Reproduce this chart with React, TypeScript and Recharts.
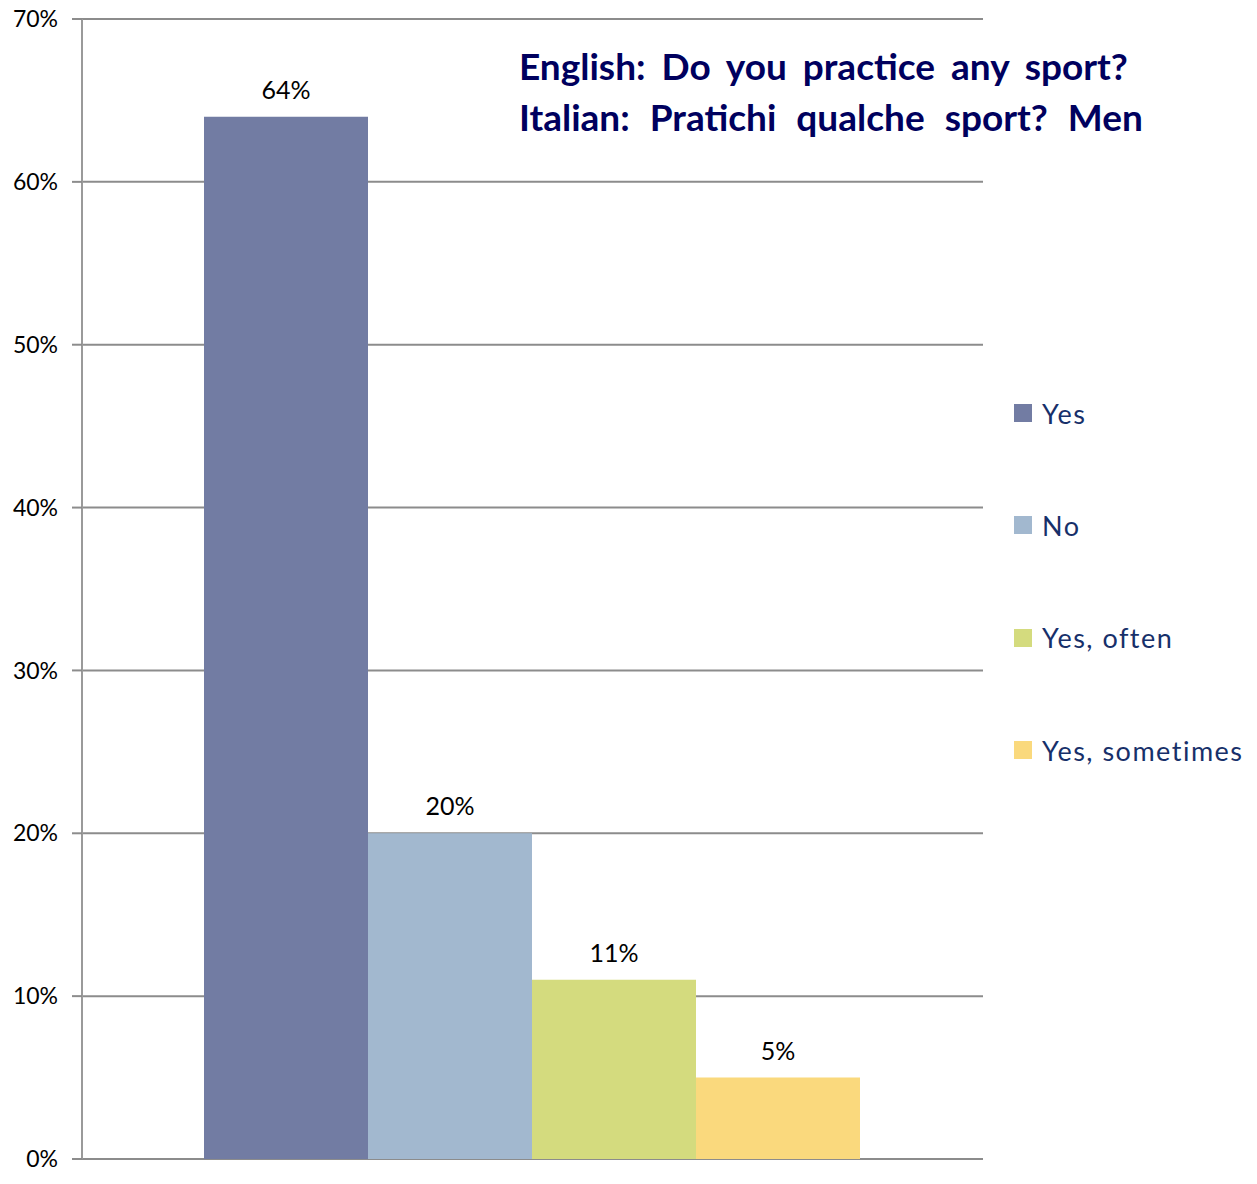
import React from 'react';
import { BarChart, Bar, XAxis, YAxis, CartesianGrid, LabelList } from 'recharts';

const categories = ['Men'];
const seriesNames = ['Yes', 'No', 'Yes, often', 'Yes, sometimes'];
const seriesValues = [64, 20, 11, 5];
const seriesColors = ['#727CA3', '#A2B8CF', '#D4DB7E', '#FAD97D'];
const yTicks = [0, 10, 20, 30, 40, 50, 60, 70];

const data = categories.map((c) => {
  const row: any = { name: c };
  seriesNames.forEach((s, i) => (row[s] = seriesValues[i]));
  return row;
});

const FONT = 'Lato, "Open Sans", sans-serif';

export default function App() {
  return (
    <div style={{ position: 'absolute', left: 0, top: 0, width: 1257, height: 1184, background: '#fff' }}>
      <BarChart
        width={1257}
        height={1184}
        data={data}
        margin={{ top: 19, right: 274, bottom: 25, left: 0 }}
        barCategoryGap={122}
        barGap={0}
      >
        <CartesianGrid vertical={false} stroke="#8C8C8C" strokeWidth={2} />
        <XAxis dataKey="name" hide />
        <YAxis
          width={82}
          domain={[0, 70]}
          ticks={yTicks}
          tickFormatter={(v) => `${v}%`}
          axisLine={{ stroke: '#9A9A9A', strokeWidth: 2 }}
          tickLine={{ stroke: '#8C8C8C', strokeWidth: 2 }}
          tickSize={10}
          tick={{ fill: '#000', fontSize: 23, fontFamily: FONT }}
          tickMargin={14}
        />
        {seriesNames.map((s, i) => (
          <Bar key={s} dataKey={s} fill={seriesColors[i]} isAnimationActive={false}>
            <LabelList
              dataKey={s}
              position="top"
              offset={18}
              formatter={(v: any) => `${v}%`}
              style={{ fill: '#000', fontSize: 25, fontFamily: FONT }}
            />
          </Bar>
        ))}
      </BarChart>

      {/* legend */}
      <div style={{ position: 'absolute', left: 1014, top: 357, fontFamily: FONT }}>
        {seriesNames.map((s, i) => (
          <div key={s} style={{ display: 'flex', alignItems: 'center', height: 112.3 }}>
            <span style={{ width: 18, height: 18, background: seriesColors[i], display: 'inline-block', marginRight: 10 }} />
            <span style={{ fontSize: 27, letterSpacing: 1.5, color: '#17306A', whiteSpace: 'nowrap' }}>{s}</span>
          </div>
        ))}
      </div>

      <div
        style={{
          position: 'absolute',
          left: 519,
          top: 40,
          fontFamily: FONT,
          fontWeight: 'bold',
          fontSize: 37,
          lineHeight: '51px',
          color: '#00005E',
          whiteSpace: 'nowrap',
        }}
      >
        <div style={{ wordSpacing: 7 }}>English: Do you practice any sport?</div>
        <div style={{ wordSpacing: 11 }}>Italian: Pratichi qualche sport? Men</div>
      </div>
    </div>
  );
}
